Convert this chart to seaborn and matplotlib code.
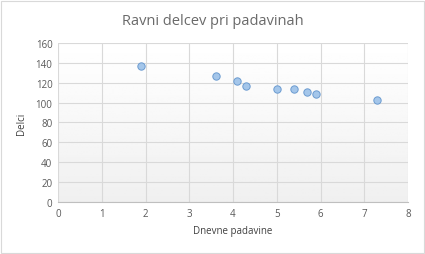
import numpy as np
import seaborn as sns
import matplotlib.pyplot as plt

padavine = [1.9, 3.6, 4.1, 4.3, 5.0, 5.4, 5.7, 5.9, 7.3]
delci = [137, 127, 122, 117, 114, 114, 111, 109, 103]
x_ticks = [0, 1, 2, 3, 4, 5, 6, 7, 8]
y_ticks = [0, 20, 40, 60, 80, 100, 120, 140, 160]

sns.set_style("white")
plt.rcParams['font.family'] = ['Open Sans', 'DejaVu Sans']

fig = plt.figure(figsize=(4.25, 2.55), dpi=100)
ax = fig.add_axes([0.1365, 0.204, 0.8235, 0.6235])

# gradient background of the plot area (white on top, light grey at bottom)
grad = np.linspace(1.0, 0.94, 100).reshape(-1, 1)
ax.imshow(grad, cmap='gray', vmin=0, vmax=1, aspect='auto',
          extent=[0, 8, 0, 160], origin='upper', zorder=0)

sns.scatterplot(x=padavine, y=delci, ax=ax, s=28, color='#a4c6ea',
                edgecolor='#6b9bd0', linewidth=0.7, zorder=3)

ax.set_xlim(0, 8)
ax.set_ylim(0, 160)
ax.set_xticks(x_ticks)
ax.set_yticks(y_ticks)
ax.grid(True, color='#d9d9d9', linewidth=0.8, zorder=1)
ax.set_axisbelow(True)
for s in ['top', 'right', 'left']:
    ax.spines[s].set_visible(False)
ax.spines['bottom'].set_color('#bfbfbf')
ax.tick_params(colors='#595959', labelsize=7, length=0, pad=4)

fig.text(0.5, 0.915, "Ravni delcev pri padavinah", fontsize=10.5, color='#6a6a6a',
         ha='center', va='center')
ax.set_xlabel("Dnevne padavine", fontsize=7, color='#404040', labelpad=5)
ax.set_ylabel("Delci", fontsize=7, color='#404040', labelpad=6)

fig.patches.append(plt.Rectangle((0.002, 0.004), 0.995, 0.99, transform=fig.transFigure,
                                 fill=False, edgecolor='#d9d9d9', linewidth=0.8))

fig.savefig("out.png", dpi=100)
